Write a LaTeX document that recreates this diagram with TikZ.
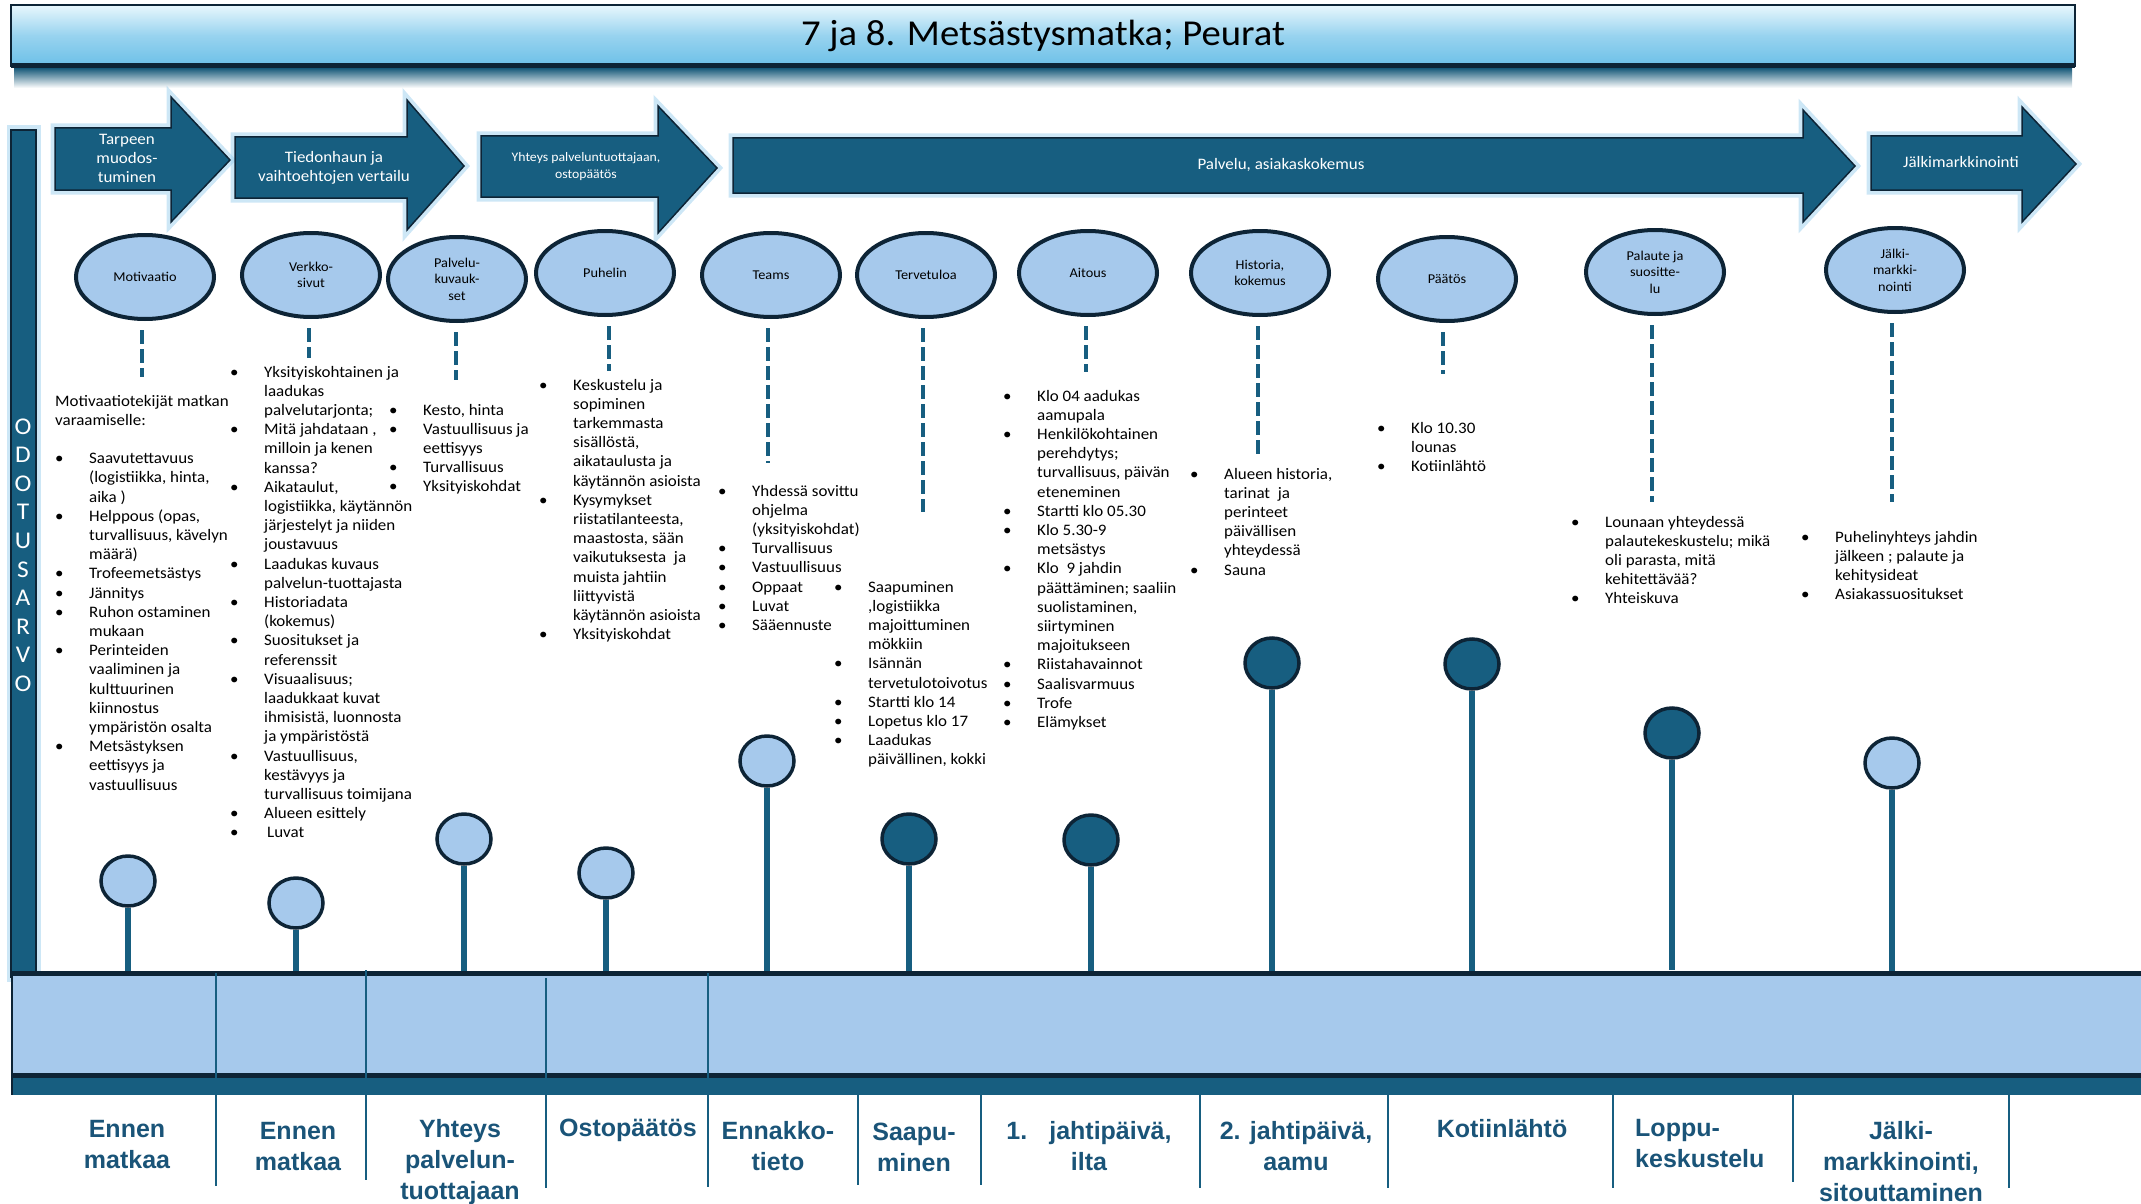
\documentclass[tikz,border=0pt]{standalone}
\usepackage{fontspec}
\usepackage{array}
\setmainfont{Carlito}[FakeStretch=1.06]
\newfontfamily\lblfont{Liberation Sans}
\usetikzlibrary{shapes.geometric}

\definecolor{deepteal}{HTML}{175E80}
\definecolor{navy}{HTML}{0D2436}
\definecolor{paleblue}{HTML}{A6C9EC}
\definecolor{glowblue}{HTML}{9CCFEE}
\definecolor{skyblue}{HTML}{6CC0E8}
\definecolor{titletop}{HTML}{E8F7FD}
\definecolor{lbltxt}{HTML}{1A5478}

\newcommand\blist[1]{\begin{tabular}[t]{@{}w{l}{34pt}@{}l@{}}#1\end{tabular}}
\newcommand\clist[1]{\begin{tabular}[t]{@{}c@{}}#1\end{tabular}}

\tikzset{
  bodytext/.style={anchor=base west, inner sep=0pt, font=\fontsize{16}{19.2}\selectfont},
  phasearrow/.style={fill=deepteal, draw=navy, line width=1.5pt,
    preaction={draw=glowblue, line width=9pt, opacity=.5}},
  phasetext/.style={text=white, align=center, inner sep=0pt, font=\fontsize{16}{19}\selectfont},
  touchpoint/.style={ellipse, draw=navy, line width=4pt, fill=paleblue, minimum width=138pt,
    minimum height=84pt, inner sep=0pt, align=center, font=\fontsize{13.5}{16.5}\selectfont},
  dashline/.style={deepteal, line width=4.5pt, dash pattern=on 14pt off 5pt},
  lolly/.style={ellipse, draw=navy, line width=3.5pt, fill=paleblue, minimum width=54pt,
    minimum height=50pt, inner sep=0pt},
  darklolly/.style={lolly, fill=deepteal},
  stem/.style={deepteal, line width=6.5pt},
  stagelabel/.style={anchor=base, inner sep=0pt, text=lbltxt, font=\lblfont\bfseries\fontsize{25}{31}\selectfont},
  divider/.style={deepteal, line width=2pt}
}

\begin{document}
\begin{tikzpicture}[x=1pt,y=-1pt]
\useasboundingbox (0,0) rectangle (2141,1204);

% title
\shade[top color=deepteal!90!navy, bottom color=white] (14,68) rectangle (2072,88);
\shade[top color=titletop, bottom color=skyblue, middle color=skyblue!70!white] (11,5) rectangle (2075,66);
\draw[navy, line width=2.5pt] (11,5) rectangle (2075,66);
\draw[navy, line width=5pt] (11,66) -- (2075,66);
\node[font=\fontsize{36.5}{40}\selectfont] (title) at (1043,36) {7 ja 8. Metsästysmatka; Peurat};

% phases
\draw[phasearrow] (55,128) -- (171,128) -- (171,97) -- (230,160) -- (171,222) -- (171,190) -- (55,190) -- cycle;
\draw[phasearrow] (235,137) -- (407,137) -- (407,100) -- (464,166) -- (407,230) -- (407,198) -- (235,198) -- cycle;
\draw[phasearrow] (481,136) -- (658,136) -- (658,106) -- (717,168) -- (658,233) -- (658,197) -- (481,197) -- cycle;
\draw[phasearrow] (733,138) -- (1803,138) -- (1803,110) -- (1855,166) -- (1803,222) -- (1803,193) -- (733,193) -- cycle;
\draw[phasearrow] (1871,136) -- (2022,136) -- (2022,107) -- (2076,164) -- (2022,222) -- (2022,190) -- (1871,190) -- cycle;
\node[phasetext] (tarve) at (127,158) {Tarpeen\\muodos-\\tuminen};
\node[phasetext] (tiedonhaku) at (334,168) {Tiedonhaun ja\\vaihtoehtojen vertailu};
\node[phasetext, font=\fontsize{13}{17}\selectfont] (yhteys) at (586,167) {Yhteys palveluntuottajaan,\\ostopäätös};
\node[phasetext] (palvelu) at (1281,165) {Palvelu, asiakaskokemus};
\node[phasetext] (jalkimark) at (1961,162) {Jälkimarkkinointi};

% odotusarvo
\draw[fill=deepteal, draw=navy, line width=1.5pt, preaction={draw=glowblue, line width=9pt, opacity=.5}] (11,130) rectangle (36,977);
\node[text=white, align=center, inner sep=0pt, font=\fontsize{24}{28.6}\selectfont] (odotus) at (23,555) {O\\D\\O\\T\\U\\S\\A\\R\\V\\O};

% touchpoints
\node[touchpoint] (motivaatio) at (145,277) {Motivaatio};
\node[touchpoint] (verkko) at (311,275) {Verkko-\\sivut};
\node[touchpoint] (kuvaus) at (457,279) {Palvelu-\\kuvauk-\\set};
\node[touchpoint] (puhelin) at (605,273) {Puhelin};
\node[touchpoint] (teams) at (771,275) {Teams};
\node[touchpoint] (tervetuloa) at (926,275) {Tervetuloa};
\node[touchpoint] (aitous) at (1088,273) {Aitous};
\node[touchpoint] (historia) at (1260,273) {Historia,\\kokemus};
\node[touchpoint] (paatos) at (1447,279) {Päätös};
\node[touchpoint] (palaute) at (1655,272) {Palaute ja\\suositte-\\lu};
\node[touchpoint] (jalki) at (1895,270) {Jälki-\\markki-\\nointi};

\coordinate (d1) at (142,377);
\coordinate (d2) at (309,358);
\coordinate (d3) at (456,380);
\coordinate (d4) at (609,371);
\coordinate (d5) at (768,463);
\coordinate (d6) at (923,512);
\coordinate (d7) at (1086,372);
\coordinate (d8) at (1258,456);
\coordinate (d9) at (1443,374);
\coordinate (d10) at (1652,502);
\coordinate (d11) at (1892,502);
\draw[dashline] (d1 |- motivaatio.south) ++(0,9) -- (d1);
\draw[dashline] (d2 |- verkko.south) ++(0,9) -- (d2);
\draw[dashline] (d3 |- kuvaus.south) ++(0,9) -- (d3);
\draw[dashline] (d4 |- puhelin.south) ++(0,9) -- (d4);
\draw[dashline] (d5 |- teams.south) ++(0,9) -- (d5);
\draw[dashline] (d6 |- tervetuloa.south) ++(0,9) -- (d6);
\draw[dashline] (d7 |- aitous.south) ++(0,9) -- (d7);
\draw[dashline] (d8 |- historia.south) ++(0,9) -- (d8);
\draw[dashline] (d9 |- paatos.south) ++(0,9) -- (d9);
\draw[dashline] (d10 |- palaute.south) ++(0,9) -- (d10);
\draw[dashline] (d11 |- jalki.south) ++(0,9) -- (d11);

% lists
\node[bodytext] (motlist) at (55,406) {\blist{%
\multicolumn{2}{@{}l@{}}{Motivaatiotekijät matkan}\\
\multicolumn{2}{@{}l@{}}{varaamiselle:}\\
&\\
\textbullet & Saavutettavuus\\
& (logistiikka, hinta,\\
& aika )\\
\textbullet & Helppous (opas,\\
& turvallisuus, kävelyn\\
& määrä)\\
\textbullet & Trofeemetsästys\\
\textbullet & Jännitys\\
\textbullet & Ruhon ostaminen\\
& mukaan\\
\textbullet & Perinteiden\\
& vaaliminen ja\\
& kulttuurinen\\
& kiinnostus\\
& ympäristön osalta\\
\textbullet & Metsästyksen\\
& eettisyys ja\\
& vastuullisuus}};

\node[bodytext] (weblist) at (230,377) {\blist{%
\textbullet & Yksityiskohtainen ja\\
& laadukas\\
& palvelutarjonta;\\
\textbullet & Mitä jahdataan ,\\
& milloin ja kenen\\
& kanssa?\\
\textbullet & Aikataulut,\\
& logistiikka, käytännön\\
& järjestelyt ja niiden\\
& joustavuus\\
\textbullet & Laadukas kuvaus\\
& palvelun-tuottajasta\\
\textbullet & Historiadata\\
& (kokemus)\\
\textbullet & Suositukset ja\\
& referenssit\\
\textbullet & Visuaalisuus;\\
& laadukkaat kuvat\\
& ihmisistä, luonnosta\\
& ja ympäristöstä\\
\textbullet & Vastuullisuus,\\
& kestävyys ja\\
& turvallisuus toimijana\\
\textbullet & Alueen esittely\\
\textbullet & \hspace{3pt}Luvat}};

\node[bodytext] (kuvlist) at (389,415) {\blist{%
\textbullet & Kesto, hinta\\
\textbullet & Vastuullisuus ja\\
& eettisyys\\
\textbullet & Turvallisuus\\
\textbullet & Yksityiskohdat}};

\node[bodytext] (puhlist) at (539,390) {\blist{%
\textbullet & Keskustelu ja\\
& sopiminen\\
& tarkemmasta\\
& sisällöstä,\\
& aikataulusta ja\\
& käytännön asioista\\
\textbullet & Kysymykset\\
& riistatilanteesta,\\
& maastosta, sään\\
& vaikutuksesta\ \ ja\\
& muista jahtiin\\
& liittyvistä\\
& käytännön asioista\\
\textbullet & Yksityiskohdat}};

\node[bodytext] (teamslist) at (718,496) {\blist{%
\textbullet & Yhdessä sovittu\\
& ohjelma\\
& (yksityiskohdat)\\
\textbullet & Turvallisuus\\
\textbullet & Vastuullisuus\\
\textbullet & Oppaat\\
\textbullet & Luvat\\
\textbullet & Sääennuste}};

\node[bodytext] (terlist) at (834,592) {\blist{%
\textbullet & Saapuminen\\
& ,logistiikka\\
& majoittuminen\\
& mökkiin\\
\textbullet & Isännän\\
& tervetulotoivotus\\
\textbullet & Startti klo 14\\
\textbullet & Lopetus klo 17\\
\textbullet & Laadukas\\
& päivällinen, kokki}};

\node[bodytext] (aitlist) at (1003,401) {\blist{%
\textbullet & Klo 04 aadukas\\
& aamupala\\
\textbullet & Henkilökohtainen\\
& perehdytys;\\
& turvallisuus, päivän\\
& eteneminen\\
\textbullet & Startti klo 05.30\\
\textbullet & Klo 5.30-9\\
& metsästys\\
\textbullet & Klo\ \ 9 jahdin\\
& päättäminen; saaliin\\
& suolistaminen,\\
& siirtyminen\\
& majoitukseen\\
\textbullet & Riistahavainnot\\
\textbullet & Saalisvarmuus\\
\textbullet & Trofe\\
\textbullet & Elämykset}};

\node[bodytext] (histlist) at (1190,479) {\blist{%
\textbullet & Alueen historia,\\
& tarinat\ \ ja\\
& perinteet\\
& päivällisen\\
& yhteydessä\\
\textbullet & Sauna}};

\node[bodytext] (paatlist) at (1377,433) {\blist{%
\textbullet & Klo 10.30\\
& lounas\\
\textbullet & Kotiinlähtö}};

\node[bodytext] (pallist) at (1571,527) {\blist{%
\textbullet & Lounaan yhteydessä\\
& palautekeskustelu; mikä\\
& oli parasta, mitä\\
& kehitettävää?\\
\textbullet & Yhteiskuva}};

\node[bodytext] (jallist) at (1801,542) {\blist{%
\textbullet & Puhelinyhteys jahdin\\
& jälkeen ; palaute ja\\
& kehitysideat\\
\textbullet & Asiakassuositukset}};

% lollipops
\coordinate (b1) at (128,973);
\coordinate (b2) at (296,973);
\coordinate (b3) at (464,973);
\coordinate (b4) at (606,973);
\coordinate (b5) at (767,973);
\coordinate (b6) at (909,973);
\coordinate (b7) at (1091,973);
\coordinate (b8) at (1272,973);
\coordinate (b9) at (1472,973);
\coordinate (b10) at (1672,970);
\coordinate (b11) at (1892,973);
\node[lolly] (p1) at (128,881) {};
\node[lolly] (p2) at (296,903) {};
\node[lolly] (p3) at (464,839) {};
\node[lolly] (p4) at (606,873) {};
\node[lolly] (p5) at (767,761) {};
\node[darklolly] (p6) at (909,839) {};
\node[darklolly] (p7) at (1091,840) {};
\node[darklolly] (p8) at (1272,663) {};
\node[darklolly] (p9) at (1472,664) {};
\node[darklolly] (p10) at (1672,733) {};
\node[lolly] (p11) at (1892,763) {};
\draw[stem] (p1) -- (b1);
\draw[stem] (p2) -- (b2);
\draw[stem] (p3) -- (b3);
\draw[stem] (p4) -- (b4);
\draw[stem] (p5) -- (b5);
\draw[stem] (p6) -- (b6);
\draw[stem] (p7) -- (b7);
\draw[stem] (p8) -- (b8);
\draw[stem] (p9) -- (b9);
\draw[stem] (p10) -- (b10);
\draw[stem] (p11) -- (b11);

% timeline band
\fill[paleblue] (11,973) rectangle (2141,1075);
\fill[deepteal] (11,1075) rectangle (2141,1095);
\draw[navy, line width=5pt] (11,973) -- (2141,973);
\draw[navy, line width=5pt] (11,1075.5) -- (2141,1075.5);
\draw[navy, line width=2pt] (12,973) -- (12,1095);
\draw[divider] (216,973) -- (216,1186);
\draw[divider] (366,970) -- (366,1180);
\draw[divider] (546,978) -- (546,1188);
\draw[divider] (708,973) -- (708,1187);
\draw[divider] (858,1095) -- (858,1185);
\draw[divider] (981,1095) -- (981,1185);
\draw[divider] (1200,1095) -- (1200,1188);
\draw[divider] (1388,1095) -- (1388,1188);
\draw[divider] (1613,1095) -- (1613,1188);
\draw[divider] (1793,1095) -- (1793,1182);
\draw[divider] (2009,1095) -- (2009,1188);

% stages
\node[stagelabel] (s1) at (127,1137) {\clist{Ennen\\matkaa}};
\node[stagelabel] (s2) at (298,1139) {\clist{Ennen\\matkaa}};
\node[stagelabel] (s3) at (460,1137) {\clist{Yhteys\\palvelun-\\tuottajaan}};
\node[stagelabel] (s4) at (628,1136) {\clist{Ostopäätös}};
\node[stagelabel] (s5) at (778,1139) {\clist{Ennakko-\\tieto}};
\node[stagelabel] (s6) at (914,1140) {\clist{Saapu-\\minen}};
\node[stagelabel] (s7) at (1089,1139) {\clist{1.\hspace{22pt}jahtipäivä,\\ilta}};
\node[stagelabel] (s8) at (1296,1139) {\clist{2. jahtipäivä,\\aamu}};
\node[stagelabel] (s9) at (1502,1137) {\clist{Kotiinlähtö}};
\node[stagelabel, anchor=base west] (s10) at (1635,1136) {\begin{tabular}[t]{@{}l@{}}Loppu-\\keskustelu\end{tabular}};
\node[stagelabel] (s11) at (1901,1139) {\clist{Jälki-\\markkinointi,\\sitouttaminen}};
\end{tikzpicture}
\end{document}
